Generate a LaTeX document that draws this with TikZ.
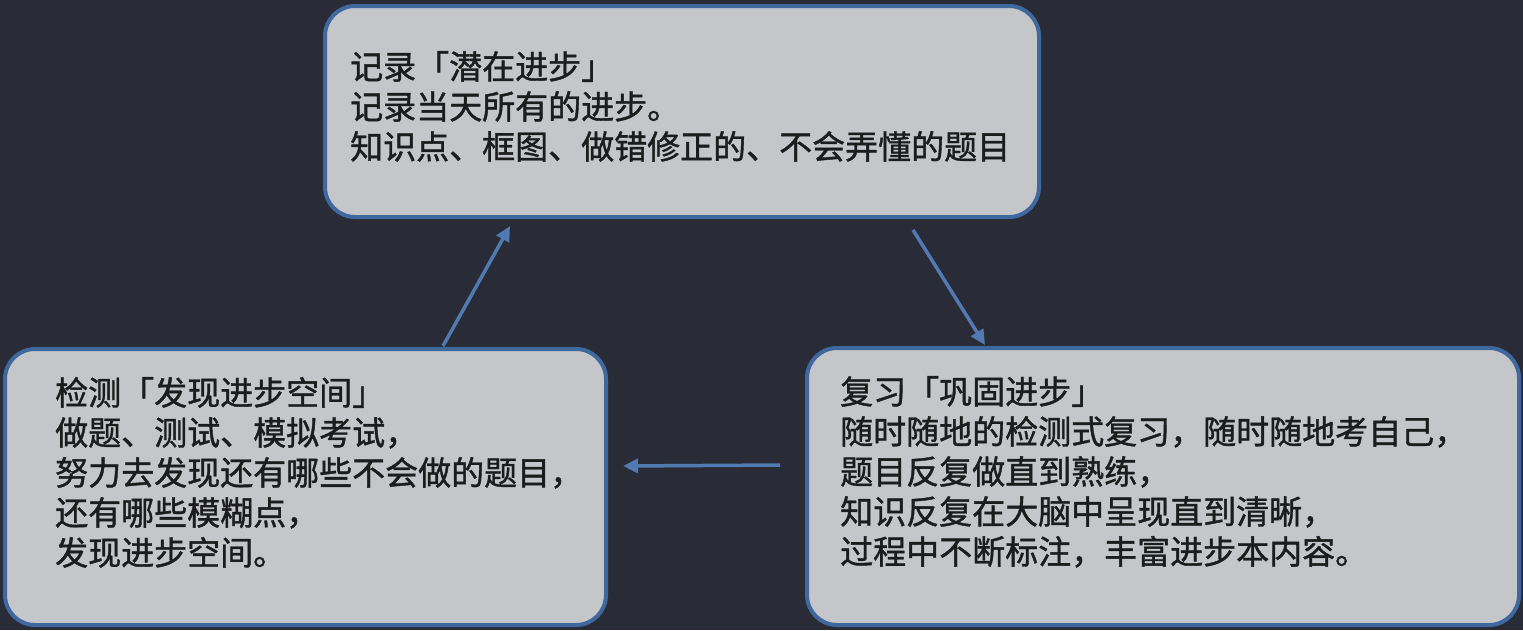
\documentclass[tikz,border=0pt]{standalone}
\usepackage{fontspec}
\newfontfamily\cjk[FakeBold=1.2]{Noto Sans CJK SC}
\usetikzlibrary{arrows.meta}
\definecolor{bgc}{HTML}{292C36}
\definecolor{boxfill}{HTML}{C4C6CA}
\definecolor{boxline}{HTML}{3F689F}
\definecolor{arrowc}{HTML}{5179B2}
\definecolor{txtc}{HTML}{1C1C1C}
\tikzset{
  stepbox/.style={draw=boxline, fill=boxfill, line width=4pt, rounded corners=30pt, rectangle, inner sep=0pt},
  txt/.style={anchor=base west, inner sep=0pt, text=txtc, font=\cjk\fontsize{33}{40}\selectfont},
  flow/.style={draw=arrowc, line width=3.5pt, -{Triangle[length=15pt,width=14pt]}},
}
\begin{document}
\begin{tikzpicture}[x=1pt,y=-1pt]
\fill[bgc] (0,0) rectangle (1523,630);
\useasboundingbox (0,0) rectangle (1523,630);
% boxes
\node[stepbox, minimum width=714pt, minimum height=211pt] (top) at (682,111.5) {};
\node[stepbox, minimum width=601pt, minimum height=276pt] (left) at (305.5,487) {};
\node[stepbox, minimum width=712pt, minimum height=277pt] (right) at (1163,486.5) {};
% texts
\node[txt] (toptext) at (350,79) {\vtop{\hbox{记录「潜在进步」}\hbox{记录当天所有的进步。}\hbox{知识点、框图、做错修正的、不会弄懂的题目}}};
\node[txt] (lefttext) at (55,405) {\vtop{\hbox{检测「发现进步空间」}\hbox{做题、测试、模拟考试，}\hbox{努力去发现还有哪些不会做的题目，}\hbox{还有哪些模糊点，}\hbox{发现进步空间。}}};
\node[txt] (righttext) at (840,404) {\vtop{\hbox{复习「巩固进步」}\hbox{随时随地的检测式复习，随时随地考自己，}\hbox{题目反复做直到熟练，}\hbox{知识反复在大脑中呈现直到清晰，}\hbox{过程中不断标注，丰富进步本内容。}}};
% connectors
\draw[flow] ([xshift=137.5pt,yshift=1pt]left.north) -- ([xshift=-172pt,yshift=-7pt]top.south);
\draw[flow] ([xshift=231pt,yshift=-11pt]top.south) -- ([xshift=-178pt,yshift=1pt]right.north);
\draw[flow] ([xshift=-25pt,yshift=21.5pt]right.west) -- ([xshift=15pt,yshift=21pt]left.east);
\end{tikzpicture}
\end{document}
